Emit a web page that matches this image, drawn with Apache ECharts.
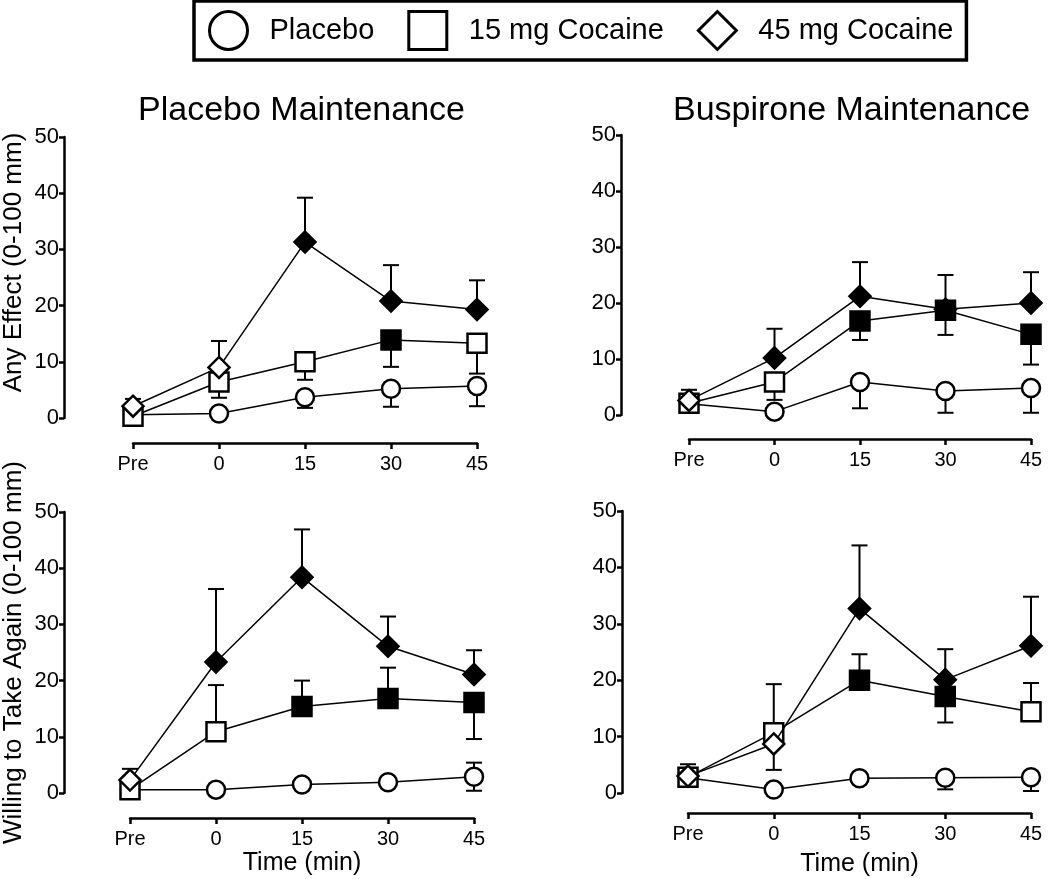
<!DOCTYPE html>
<html><head><meta charset="utf-8">
<script src="https://cdn.jsdelivr.net/npm/echarts@6/dist/echarts.min.js"></script>
<style>html,body{margin:0;padding:0;background:#fff}#c{width:1050px;height:879px}</style>
</head><body><div id="c"></div>
<script>
// ---------- DATA ----------
const timeLabels = ['Pre', '0', '15', '30', '45'];
const doseNames = ['Placebo', '15 mg Cocaine', '45 mg Cocaine'];
const panelTitles = ['Placebo Maintenance', 'Buspirone Maintenance'];
const yNames = ['Any Effect (0-100 mm)', 'Willing to Take Again (0-100 mm)'];
const xName = 'Time (min)';

// Rows: Placebo, 15 mg, 45 mg. Values in mm; Hi/Lo are error-bar ends (null = none); Sig 1 = filled marker
// Placebo maintenance – Any Effect
const pmAnyMean = [[0.6, 0.8, 3.7, 5.2, 5.7], [0.3, 6.4, 10.0, 13.9, 13.3], [2.1, 9.0, 31.3, 20.8, 19.3]];
const pmAnyHi   = [[null, null, null, null, null], [null, null, null, null, null], [3.4, 13.7, 39.2, 27.2, 24.5]];
const pmAnyLo   = [[null, null, 1.8, 2.0, 2.1], [null, 3.6, 6.8, 9.1, 7.9], [null, null, null, null, null]];
const pmAnySig  = [[0, 0, 0, 0, 0], [0, 0, 0, 1, 0], [0, 0, 1, 1, 1]];
// Buspirone maintenance – Any Effect
const bmAnyMean = [[2.0, 0.6, 5.9, 4.3, 4.8], [2.1, 5.9, 16.8, 18.7, 14.4], [2.6, 10.2, 21.2, 18.9, 20.0]];
const bmAnyHi   = [[null, null, null, null, null], [null, null, null, null, null], [4.5, 15.4, 27.3, 25.0, 25.5]];
const bmAnyLo   = [[1.0, null, 1.2, 0.4, 0.4], [null, 2.7, 13.4, 14.3, 9.0], [null, null, null, null, null]];
const bmAnySig  = [[0, 0, 0, 0, 0], [0, 0, 1, 1, 1], [0, 1, 1, 1, 1]];
// Placebo maintenance – Willing to Take Again
const pmWillMean = [[0.6, 0.6, 1.5, 1.9, 2.9], [0.6, 10.9, 15.4, 16.8, 16.1], [2.3, 23.3, 38.4, 26.1, 21.1]];
const pmWillHi   = [[null, null, null, null, 5.4], [null, 19.2, 20.0, 22.3, null], [4.3, 36.3, 46.9, 31.4, 25.4]];
const pmWillLo   = [[null, null, null, null, 0.4], [null, null, null, null, 9.6], [null, null, null, null, null]];
const pmWillSig  = [[0, 0, 0, 0, 0], [0, 0, 1, 1, 1], [0, 1, 1, 1, 1]];
// Buspirone maintenance – Willing to Take Again
const bmWillMean = [[2.7, 0.6, 2.6, 2.7, 2.8], [2.8, 10.7, 20.0, 17.1, 14.4], [3.0, 8.7, 32.7, 20.1, 26.1]];
const bmWillHi   = [[null, null, null, null, null], [null, 19.3, 24.6, null, 19.5], [5.1, null, 43.9, 25.5, 34.8]];
const bmWillLo   = [[1.1, null, null, 0.65, 0.35], [null, null, null, 12.5, null], [null, 4.1, null, null, null]];
const bmWillSig  = [[0, 0, 0, 0, 0], [0, 0, 1, 1, 0], [0, 0, 1, 1, 1]];

const yMin = 0, yMax = 50, yStep = 10;

// ---------- LAYOUT / STYLE ----------
const FONT = '"Liberation Sans", Arial, Helvetica, sans-serif';
const panels = [
  { mean: pmAnyMean, hi: pmAnyHi, lo: pmAnyLo, sig: pmAnySig,
    grid: { left: 130, top: 137, width: 347, height: 281 }, yOff: 69, xOff: 25,
    yName: yNames[0], yNameShift: 30, xName: null },
  { mean: bmAnyMean, hi: bmAnyHi, lo: bmAnyLo, sig: bmAnySig,
    grid: { left: 689, top: 135, width: 342, height: 280 }, yOff: 68, xOff: 24,
    yName: null, xName: null },
  { mean: pmWillMean, hi: pmWillHi, lo: pmWillLo, sig: pmWillSig,
    grid: { left: 127, top: 512, width: 347, height: 281 }, yOff: 66, xOff: 25,
    yName: yNames[1], yNameShift: 0, xName: xName, xGap: 33 },
  { mean: bmWillMean, hi: bmWillHi, lo: bmWillLo, sig: bmWillSig,
    grid: { left: 688, top: 511, width: 343, height: 282 }, yOff: 66, xOff: 20,
    yName: null, xName: xName, xGap: 39 }
];
const symbols = ['circle', 'rect', 'diamond'];
const symbolSizes = [18, 19, 21];

function renderErr(params, api) {
  const x = api.value(0), y = api.value(1), e = api.value(2);
  const p0 = api.coord([x, y]);
  const p1 = api.coord([x, e]);
  const w = 8;
  return {
    type: 'group',
    children: [
      { type: 'line', shape: { x1: p0[0], y1: p0[1], x2: p1[0], y2: p1[1] }, style: { stroke: '#000', lineWidth: 2 } },
      { type: 'line', shape: { x1: p1[0] - w, y1: p1[1], x2: p1[0] + w, y2: p1[1] }, style: { stroke: '#000', lineWidth: 2 } }
    ]
  };
}

const grids = [], xAxes = [], yAxes = [], series = [];
panels.forEach((p, gi) => {
  grids.push(Object.assign({ containLabel: false }, p.grid));
  xAxes.push({
    type: 'category', gridIndex: gi, data: timeLabels, boundaryGap: false, offset: p.xOff,
    axisLine: { show: true, onZero: false, lineStyle: { color: '#000', width: 2.5 } },
    axisTick: { show: true, length: 6, lineStyle: { color: '#000', width: 2.5 } },
    axisLabel: { color: '#000', fontSize: 20, fontFamily: FONT, margin: 11 },
    splitLine: { show: false },
    name: p.xName || '', nameLocation: 'middle', nameGap: p.xGap || 30,
    nameTextStyle: { color: '#000', fontSize: 25, fontFamily: FONT }
  });
  yAxes.push({
    type: 'value', gridIndex: gi, min: yMin, max: yMax, interval: yStep, offset: p.yOff,
    axisLine: { show: true, onZero: false, lineStyle: { color: '#000', width: 2.5 } },
    axisTick: { show: true, length: 5, lineStyle: { color: '#000', width: 2.5 } },
    axisLabel: { color: '#000', fontSize: 22, fontFamily: FONT, margin: 5 },
    splitLine: { show: false },
    name: p.yName || '', nameLocation: 'middle', nameGap: 37,
    nameTextStyle: { color: '#000', fontSize: 26, fontFamily: FONT, padding: [0, 0, 0, p.yNameShift || 0] }
  });
  // error bars
  const errData = [];
  for (let s = 0; s < 3; s++) {
    for (let i = 0; i < timeLabels.length; i++) {
      if (p.hi[s][i] != null) errData.push([i, p.mean[s][i], p.hi[s][i]]);
      if (p.lo[s][i] != null) errData.push([i, p.mean[s][i], p.lo[s][i]]);
    }
  }
  series.push({
    type: 'custom', xAxisIndex: gi, yAxisIndex: gi, renderItem: renderErr,
    data: errData, encode: { x: 0, y: 1 }, z: 1, clip: false, silent: true
  });
  for (let s = 0; s < 3; s++) {
    series.push({
      type: 'line', name: doseNames[s], xAxisIndex: gi, yAxisIndex: gi,
      symbol: symbols[s], symbolSize: symbolSizes[s], showAllSymbol: true,
      clip: false, z: 2 + s, silent: true, animation: false,
      lineStyle: { color: '#000', width: 1.5 },
      itemStyle: { color: '#fff', borderColor: '#000', borderWidth: 2.5 },
      emphasis: { disabled: true },
      data: p.mean[s].map((v, i) => p.sig[s][i]
        ? { value: v, itemStyle: { color: '#000' } }
        : v)
    });
  }
});

const chart = echarts.init(document.getElementById('c'), null, { renderer: 'canvas' });
chart.setOption({
  animation: false,
  backgroundColor: '#fff',
  textStyle: { fontFamily: FONT },
  title: [
    { text: panelTitles[0], left: 138, top: 94, padding: 0,
      textStyle: { fontSize: 34, fontWeight: 'normal', color: '#000', fontFamily: FONT } },
    { text: panelTitles[1], left: 673, top: 94, padding: 0,
      textStyle: { fontSize: 34, fontWeight: 'normal', color: '#000', fontFamily: FONT } }
  ],
  legend: {
    data: doseNames.map((n, i) => ({ name: n, icon: symbols[i] })),
    left: 194, top: 1,
    borderColor: '#000', borderWidth: 3.5,
    padding: [9, 13, 9, 14],
    itemWidth: 38, itemHeight: 38, itemGap: 33,
    itemStyle: { color: '#fff', borderColor: '#000', borderWidth: 3 },
    textStyle: { fontSize: 29, color: '#000', fontFamily: FONT, padding: [0, 0, 0, 17] },
    selectedMode: false
  },
  grid: grids,
  xAxis: xAxes,
  yAxis: yAxes,
  series: series
});
</script>
</body></html>
